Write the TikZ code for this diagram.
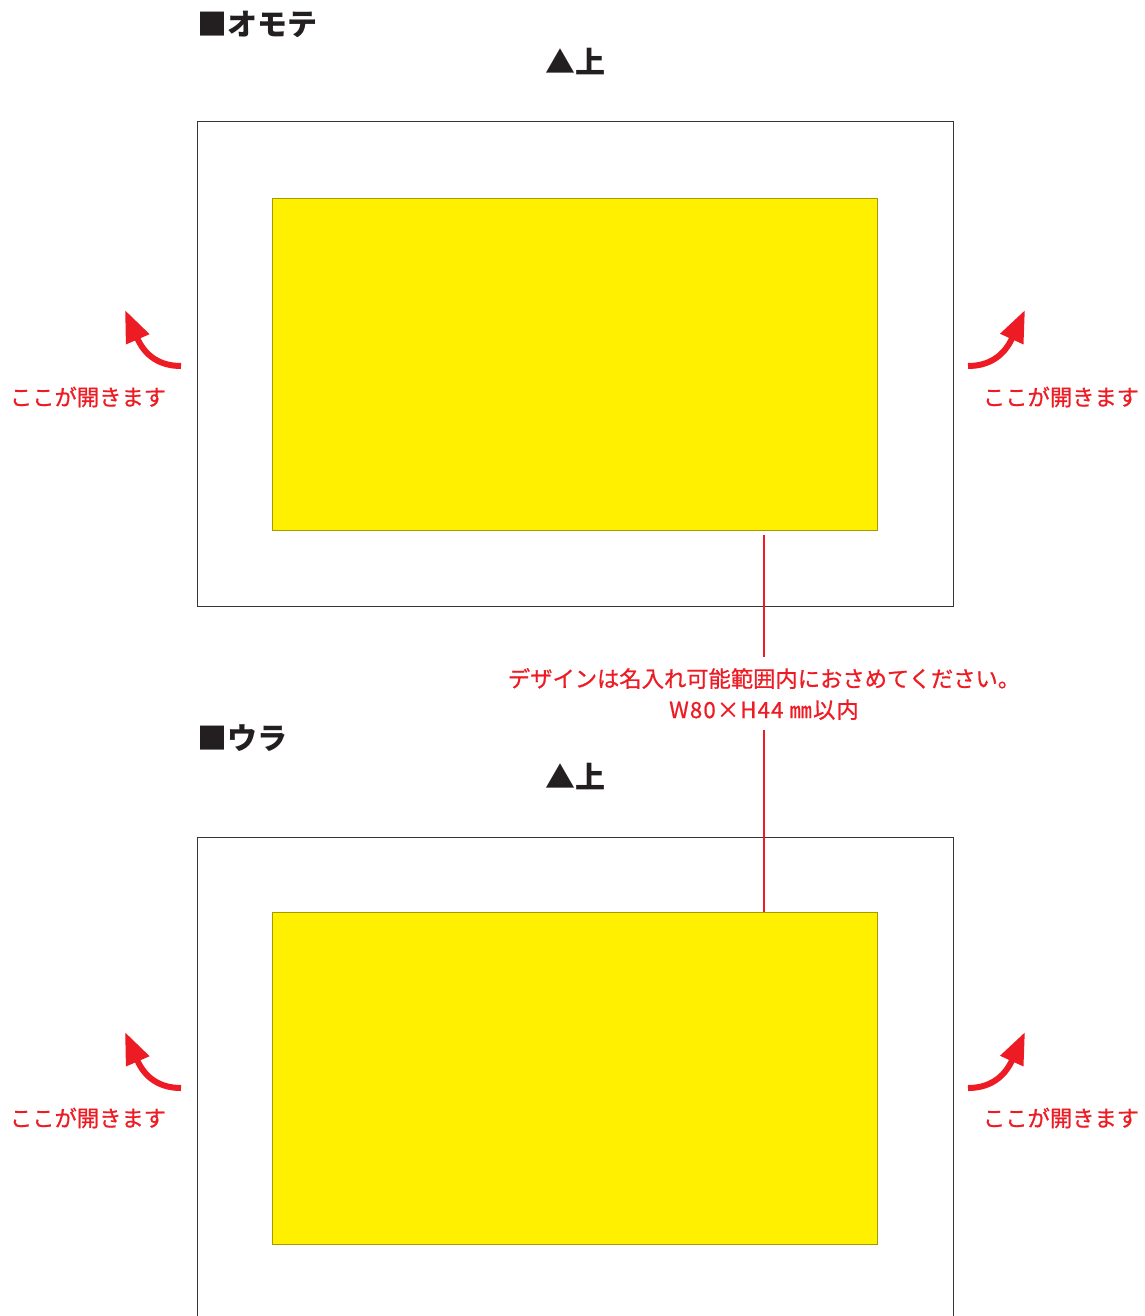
\documentclass[tikz,border=0pt]{standalone}
\usepackage{fontspec}
\newfontfamily\jp{Noto Sans CJK JP}
\newfontfamily\jpr[FakeBold=0.8]{Noto Sans CJK JP}
\newfontfamily\jpw[FakeBold=0.8,LetterSpace=5]{Noto Sans CJK JP}
\usetikzlibrary{arrows.meta}
\definecolor{redc}{HTML}{ED1C24}
\definecolor{yel}{HTML}{FFF000}
\definecolor{yelb}{HTML}{A59A00}
\definecolor{blk}{HTML}{231F20}
\tikzset{
  outerbox/.style={draw=blk!90, line width=1pt, inner sep=0pt, minimum width=756pt, minimum height=484pt},
  ybox/.style={draw=yelb, fill=yel, line width=0.9pt, inner sep=0pt, minimum width=605pt, minimum height=332pt},
  hdr/.style={font=\jp\bfseries\fontsize{30}{32}\selectfont, text=blk, inner sep=0pt},
  rlabel/.style={font=\jpr\fontsize{22.3}{26}\selectfont, text=redc, inner sep=0pt},
  redline/.style={draw=redc, line width=2pt},
  openarrow/.style={draw=redc, line width=6pt, -{Triangle[length=32pt,width=24pt]}}
}
\begin{document}
\begin{tikzpicture}[x=1pt,y=-1pt]
\useasboundingbox (0,0) rectangle (1144,1316);
% front
\node[hdr, anchor=west] (h1) at (197,24) {■オモテ};
\node[hdr] (u1) at (575,62) {▲上};
\node[outerbox] (o1) at (575,364) {};
\node[ybox] (y1) at (574.5,364) {};
% back
\node[hdr, anchor=west] (h2) at (197,738) {■ウラ};
\node[hdr] (u2) at (575,777) {▲上};
\draw[blk!90, line width=1pt] (197,1318) -- (197,837) -- (953,837) -- (953,1318);
\node[ybox] (y2) at (574.5,1078.5) {};
% label
\node[rlabel, align=center] (lab) at (764,694) {デザインは名入れ可能範囲内におさめてください。\\[5pt]{\jpw\fontsize{22.3}{26}\selectfont W80×H44 ㎜以内}};
\coordinate (s1) at (764,535);
\coordinate (t1) at (764,657);
\coordinate (s2) at (764,730);
\draw[redline] (s1) -- (t1);
\draw[redline] (s2) -- (y2.north -| s2);
% opening arrows
\coordinate (la1) at (181,366);
\coordinate (lt1) at (125,310);
\coordinate (ra1) at (968,366);
\coordinate (rt1) at (1025,310);
\draw[openarrow] (la1) .. controls (160,366) and (145,356) .. (lt1);
\draw[openarrow] (ra1) .. controls (989,366) and (1004,356) .. (rt1);
\node[rlabel] (lo1) at (88,397) {ここが開きます};
\node[rlabel] (ro1) at (1061,397) {ここが開きます};
\coordinate (la2) at (181,1088);
\coordinate (lt2) at (125,1032);
\coordinate (ra2) at (968,1088);
\coordinate (rt2) at (1025,1032);
\draw[openarrow] (la2) .. controls (160,1088) and (145,1078) .. (lt2);
\draw[openarrow] (ra2) .. controls (989,1088) and (1004,1078) .. (rt2);
\node[rlabel] (lo2) at (88,1118) {ここが開きます};
\node[rlabel] (ro2) at (1061,1118) {ここが開きます};
\end{tikzpicture}
\end{document}
